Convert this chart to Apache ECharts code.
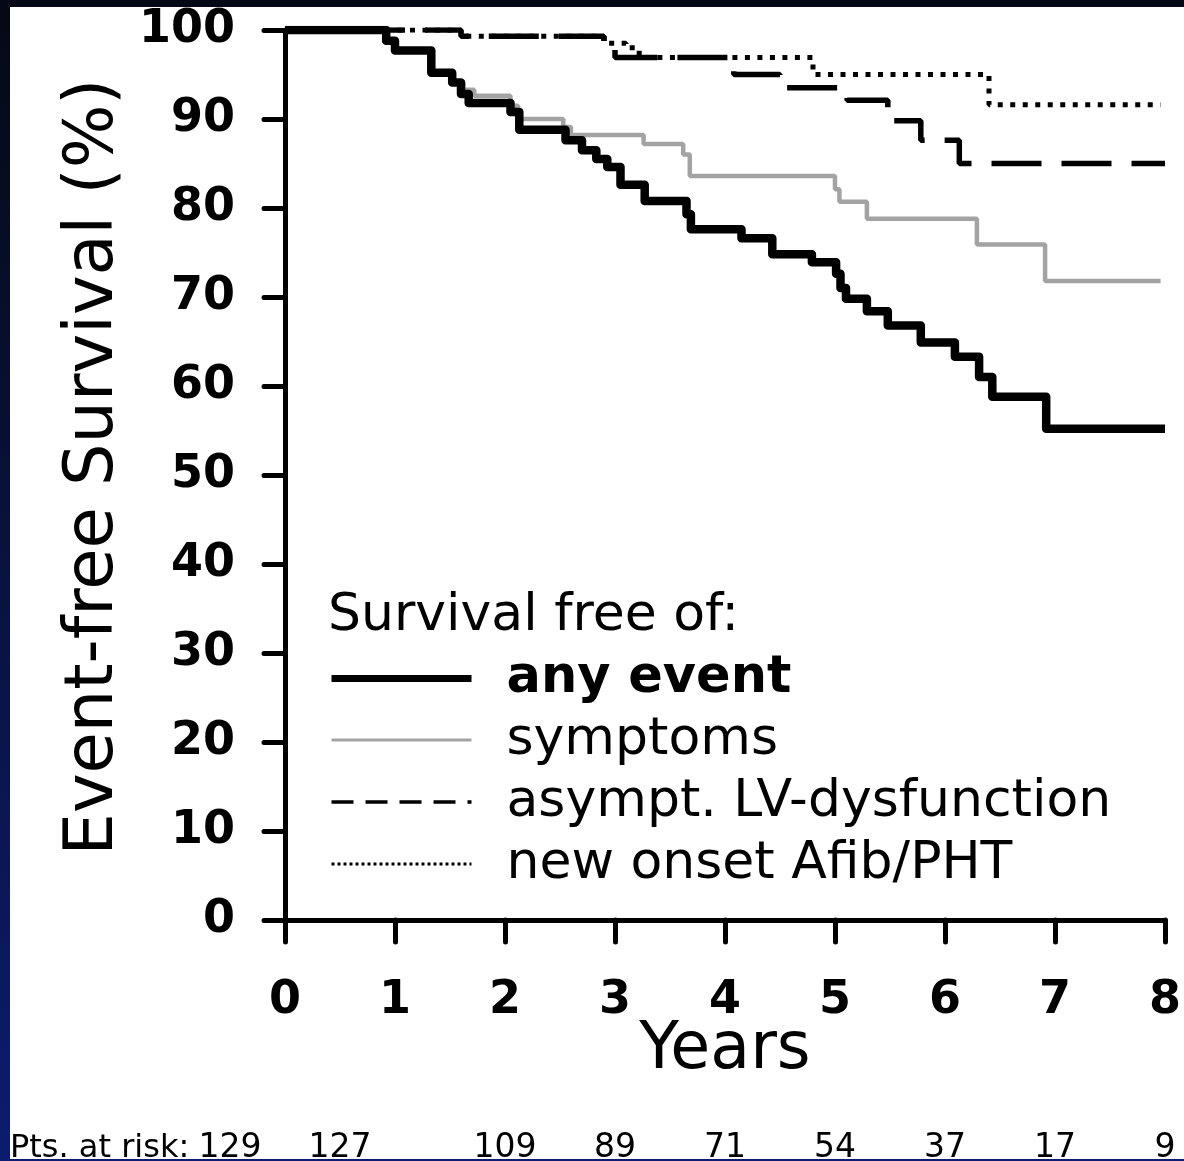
<!DOCTYPE html>
<html>
<head>
<meta charset="utf-8">
<script src="https://cdn.jsdelivr.net/npm/echarts/dist/echarts.min.js"></script>
<style>
  html, body { margin: 0; padding: 0; }
  body {
    width: 1184px; height: 1161px; overflow: hidden;
    background: linear-gradient(to bottom, #050915 0%, #08123a 45%, #0c1c6e 100%);
  }
  #chart {
    position: absolute; left: 10px; top: 7px;
    width: 1174px; height: 1152px; background: #fff;
  }
</style>
</head>
<body>
<div id="chart"></div>
<script>
// Kaplan-Meier steps (years, % event-free)
var anyEventT = [0, 0.92, 1.0, 1.33, 1.52, 1.6, 1.67, 2.05, 2.13, 2.55, 2.7, 2.83, 2.93, 3.05, 3.27, 3.65, 3.69, 4.15, 4.43, 4.79, 5.01, 5.05, 5.1, 5.29, 5.48, 5.78, 6.09, 6.31, 6.43, 6.92, 8.0];
var anyEventS = [100, 98.8, 97.7, 95.2, 94.1, 92.8, 91.8, 90.8, 88.8, 87.6, 86.5, 85.5, 84.6, 82.6, 80.8, 79.3, 77.6, 76.6, 74.8, 73.9, 72.6, 71.0, 69.8, 68.4, 66.8, 64.9, 63.3, 61.0, 58.8, 55.2, 55.2];

var symptomsT = [0, 0.92, 1.0, 1.33, 1.52, 1.62, 1.72, 2.05, 2.12, 2.53, 2.6, 3.26, 3.62, 3.68, 5.0, 5.04, 5.29, 6.29, 6.91, 7.96];
var symptomsS = [100, 98.8, 97.7, 95.2, 94.1, 93.3, 92.6, 91.5, 90.0, 89.1, 88.2, 87.2, 86.0, 83.6, 82.1, 80.7, 78.8, 75.9, 71.8, 71.8];

var lvT = [0, 1.6, 2.9, 3.0, 4.08, 4.5, 5.11, 5.48, 5.78, 6.13, 8.0];
var lvS = [100, 99.3, 98.5, 96.9, 95.0, 93.5, 92.1, 89.8, 87.6, 85.0, 85.0];

var afibT = [0, 1.6, 2.9, 3.1, 3.22, 4.8, 6.4, 7.96];
var afibS = [100, 99.3, 98.5, 98.0, 96.9, 95.0, 91.6, 91.6];

var yearTicks = [0, 1, 2, 3, 4, 5, 6, 7, 8];
var atRisk = [129, 127, 109, 89, 71, 54, 37, 17, 9];

var names = ['any event', 'symptoms', 'asympt. LV-dysfunction', 'new onset Afib/PHT'];

function pairs(t, s) {
  return t.map(function (v, i) { return [v, s[i]]; });
}

var FONT = 'DejaVu Sans';
var chart = echarts.init(document.getElementById('chart'));

chart.setOption({
  animation: false,
  backgroundColor: '#fff',
  textStyle: { fontFamily: FONT },
  grid: { left: 275, right: 9, top: 15, bottom: 239 },
  xAxis: {
    type: 'value', min: 0, max: 8, interval: 1,
    name: 'Years', nameLocation: 'middle', nameGap: 99, nameMoveOverlap: false,
    nameTextStyle: { fontSize: 65, color: '#000', fontFamily: FONT },
    axisLine: { lineStyle: { color: '#000', width: 5 } },
    axisTick: { length: 22, lineStyle: { color: '#000', width: 5, cap: 'round' } },
    axisLabel: {
      margin: 58, fontSize: 46, fontWeight: 'bold', color: '#000', fontFamily: FONT,
      formatter: function (v) { return yearTicks.indexOf(v) >= 0 ? String(v) : ''; }
    },
    splitLine: { show: false }
  },
  yAxis: {
    type: 'value', min: 0, max: 100, interval: 10,
    name: 'Event-free Survival (%)', nameLocation: 'middle', nameGap: 150, nameRotate: 90,
    nameTextStyle: { fontSize: 67, color: '#000', fontFamily: FONT, padding: [0, 0, 0, 16] },
    axisLine: { show: true, lineStyle: { color: '#000', width: 5 } },
    axisTick: { show: true, length: 21, lineStyle: { color: '#000', width: 5, cap: 'round' } },
    axisLabel: { margin: 50, fontSize: 46, fontWeight: 'bold', color: '#000', fontFamily: FONT },
    splitLine: { show: false }
  },
  legend: {
    orient: 'vertical', left: 318, top: 646, padding: 0,
    itemWidth: 140, itemHeight: 50, itemGap: 10,
    selectedMode: false,
    itemStyle: { opacity: 0 },
    data: [
      { name: names[0], lineStyle: { width: 7 } },
      { name: names[1], lineStyle: { width: 3 } },
      { name: names[2], lineStyle: { width: 3.5, type: [22, 12] } },
      { name: names[3], lineStyle: { width: 3, type: [3, 3] } }
    ],
    formatter: function (n) { return n === names[0] ? '{b|' + n + '}' : '{n|' + n + '}'; },
    textStyle: {
      color: '#000', fontSize: 52, fontFamily: FONT,
      rich: {
        b: { fontSize: 51, fontWeight: 'bold', color: '#000', fontFamily: FONT, padding: [0, 0, 0, 30] },
        n: { fontSize: 52, color: '#000', fontFamily: FONT, padding: [0, 0, 0, 30] }
      }
    }
  },
  series: [
    {
      name: names[3], type: 'line', step: 'end', symbol: 'none', z: 2,
      data: pairs(afibT, afibS),
      lineStyle: { color: '#000', width: 5, type: [5, 7.5], cap: 'butt' }
    },
    {
      name: names[2], type: 'line', step: 'end', symbol: 'none', z: 3,
      data: pairs(lvT, lvS),
      lineStyle: { color: '#000', width: 5.5, type: [50, 20], cap: 'butt' }
    },
    {
      name: names[1], type: 'line', step: 'end', symbol: 'none', z: 4,
      data: pairs(symptomsT, symptomsS),
      lineStyle: { color: '#a3a3a3', width: 4.5 }
    },
    {
      name: names[0], type: 'line', step: 'end', symbol: 'none', z: 5,
      data: pairs(anyEventT, anyEventS),
      lineStyle: { color: '#000', width: 8.5, join: 'round' }
    }
  ]
});

// patients-at-risk row under the axis; the first two columns sit half a year left in the original
var riskY = 1158;
var riskTexts = [{
  type: 'text', x: 0, y: riskY,
  style: { text: 'Pts. at risk:', fontSize: 32, fontFamily: FONT, fill: '#000', verticalAlign: 'bottom' }
}];
atRisk.forEach(function (n, i) {
  var col = i < 2 ? i - 0.5 : i;
  var x = chart.convertToPixel({ gridIndex: 0 }, [col, 0])[0];
  riskTexts.push({
    type: 'text', x: x, y: riskY,
    style: { text: String(n), fontSize: 33, fontFamily: FONT, fill: '#000', align: 'center', verticalAlign: 'bottom' }
  });
});
chart.setOption({
  graphic: [{
    type: 'text', left: 318, top: 583,
    style: { text: 'Survival free of:', fontSize: 52, fontFamily: FONT, fill: '#000' }
  }].concat(riskTexts)
});
</script>
</body>
</html>
